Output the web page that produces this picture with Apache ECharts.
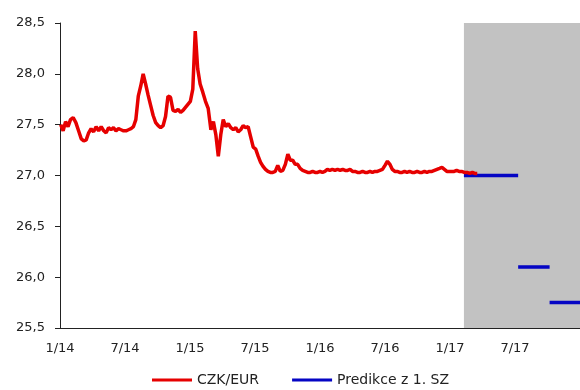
<!DOCTYPE html>
<html>
<head>
<meta charset="utf-8">
<script src="https://cdn.jsdelivr.net/npm/echarts@6/dist/echarts.min.js"></script>
<style>
  html, body { margin: 0; padding: 0; background: #ffffff; }
  #chart { width: 580px; height: 390px; }
</style>
</head>
<body>
<div id="chart"></div>
<script>
// Weekly CZK/EUR exchange rate, first observation on 3 Jan 2014.
const rateStart = '2014-01-03';
const czkEur = [
  27.50, 27.44, 27.53, 27.48, 27.55, 27.57, 27.52, 27.44, 27.36, 27.34,
  27.35, 27.42, 27.46, 27.43, 27.48, 27.44, 27.48, 27.44, 27.42, 27.47,
  27.45, 27.47, 27.44, 27.46, 27.45, 27.44, 27.44, 27.45, 27.46, 27.48,
  27.55, 27.78, 27.88, 28.00, 27.90, 27.79, 27.69, 27.59, 27.52, 27.49,
  27.47, 27.49, 27.58, 27.78, 27.77, 27.64, 27.63, 27.65, 27.62, 27.64,
  27.67, 27.70, 27.73, 27.85, 28.42, 28.05, 27.90, 27.82, 27.73, 27.66,
  27.45, 27.53, 27.40, 27.19, 27.40, 27.55, 27.48, 27.51, 27.47, 27.45,
  27.47, 27.43, 27.45, 27.49, 27.47, 27.48, 27.38, 27.28, 27.26, 27.19,
  27.13, 27.09, 27.06, 27.04, 27.03, 27.03, 27.04, 27.10, 27.04, 27.05,
  27.11, 27.21, 27.15, 27.15, 27.11, 27.11, 27.07, 27.05, 27.04, 27.03,
  27.03, 27.04, 27.03, 27.03, 27.04, 27.03, 27.04, 27.06, 27.05, 27.06,
  27.05, 27.06, 27.05, 27.06, 27.05, 27.05, 27.06, 27.04, 27.04, 27.03,
  27.03, 27.04, 27.03, 27.03, 27.04, 27.03, 27.04, 27.04, 27.05, 27.06,
  27.10, 27.14, 27.11, 27.06, 27.04, 27.04, 27.03, 27.03, 27.04, 27.03,
  27.04, 27.03, 27.03, 27.04, 27.03, 27.03, 27.04, 27.03, 27.04, 27.04,
  27.05, 27.06, 27.07, 27.08, 27.06, 27.04, 27.04, 27.04, 27.04, 27.05,
  27.04, 27.04, 27.03, 27.03, 27.02, 27.03, 27.02, 27.02
];

// Forecast from the 1st situation report (Predikce z 1. SZ), one level per period.
const predFrom  = ['2017-02-09', '2017-07-10', '2017-10-07'];
const predTo    = ['2017-07-10', '2017-10-07', '2018-01-01'];
const predValue = [27.0, 26.1, 25.75];

// Shaded forecast horizon.
const forecastFrom = '2017-02-09';
const forecastTo   = '2018-01-01';

// Axis ranges and ticks.
const yTicks = [25.5, 26.0, 26.5, 27.0, 27.5, 28.0, 28.5];
const xTickLabels = ['1/14', '7/14', '1/15', '7/15', '1/16', '7/16', '1/17', '7/17', '1/18'];

// Dates are placed on a month scale: 0 = 1 Jan 2014, 48 = 1 Jan 2018.
function monthPos(d) {
  const y = d.getUTCFullYear(), m = d.getUTCMonth();
  const days = new Date(Date.UTC(y, m + 1, 0)).getUTCDate();
  return (y - 2014) * 12 + m + (d.getUTCDate() - 1) / days;
}
function monthPosStr(s) { return monthPos(new Date(s + 'T00:00:00Z')); }

const start = new Date(rateStart + 'T00:00:00Z');
const rateData = czkEur.map((v, i) => {
  const d = new Date(start.getTime() + i * 7 * 86400000);
  return [monthPos(d), v];
});

const predData = [];
predValue.forEach((v, i) => {
  if (i > 0) predData.push('-');
  predData.push([monthPosStr(predFrom[i]), v]);
  predData.push([monthPosStr(predTo[i]), v]);
});

const FONT = 'DejaVu Sans';
const chart = echarts.init(document.getElementById('chart'), null, { renderer: 'canvas' });
chart.setOption({
  animation: false,
  backgroundColor: '#ffffff',
  textStyle: { fontFamily: FONT },
  grid: { left: 60, right: 0, top: 23, bottom: 62, containLabel: false },
  legend: {
    left: 152,
    top: 373,
    padding: 0,
    itemGap: 33,
    itemWidth: 40,
    itemHeight: 3,
    icon: 'rect',
    textStyle: { fontFamily: FONT, fontSize: 14, color: '#222' },
    data: ['CZK/EUR', 'Predikce z 1. SZ']
  },
  xAxis: {
    type: 'value',
    min: 0,
    max: 48,
    interval: 6,
    axisLine: { show: true, lineStyle: { color: '#222', width: 1 } },
    axisTick: { show: false },
    splitLine: { show: false },
    axisLabel: {
      margin: 14,
      fontFamily: FONT,
      fontSize: 13,
      color: '#222',
      showMaxLabel: false,
      formatter: v => xTickLabels[Math.round(v / 6)] || ''
    }
  },
  yAxis: {
    type: 'value',
    min: yTicks[0],
    max: yTicks[yTicks.length - 1],
    interval: 0.5,
    axisLine: { show: true, lineStyle: { color: '#222', width: 1 } },
    axisTick: { show: true, length: 5, lineStyle: { color: '#222' } },
    splitLine: { show: false },
    axisLabel: {
      margin: 15,
      fontFamily: FONT,
      fontSize: 13,
      color: '#222',
      formatter: v => v.toFixed(1).replace('.', ',')
    }
  },
  series: [
    {
      name: 'forecast-area',
      type: 'line',
      data: [],
      z: 1,
      silent: true,
      markArea: {
        silent: true,
        itemStyle: { color: '#c2c2c2' },
        data: [[{ xAxis: monthPosStr(forecastFrom) }, { xAxis: monthPosStr(forecastTo) }]]
      }
    },
    {
      name: 'Predikce z 1. SZ',
      type: 'line',
      data: predData,
      z: 3,
      showSymbol: false,
      connectNulls: false,
      lineStyle: { color: '#0505c4', width: 3.5 },
      itemStyle: { color: '#0505c4' }
    },
    {
      name: 'CZK/EUR',
      type: 'line',
      data: rateData,
      z: 4,
      showSymbol: false,
      lineStyle: { color: '#e60000', width: 3.5 },
      itemStyle: { color: '#e60000' }
    }
  ]
});
</script>
</body>
</html>
